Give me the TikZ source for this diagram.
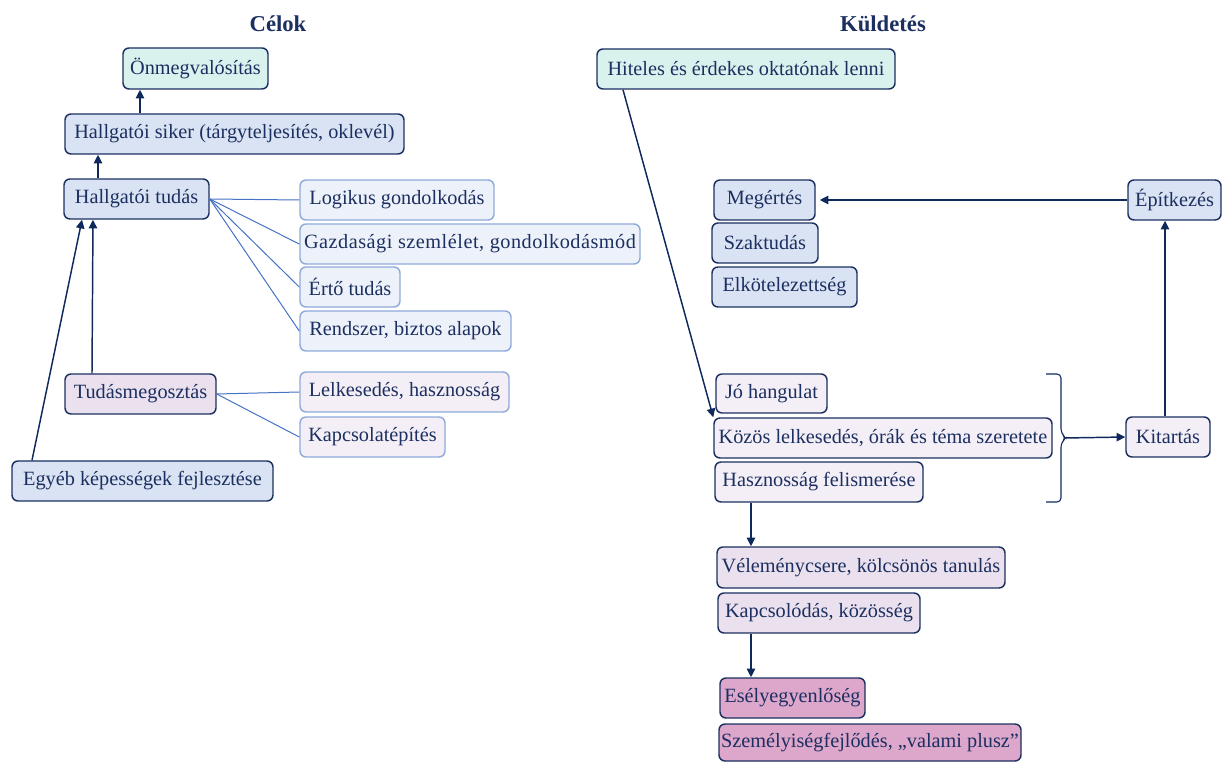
\documentclass[tikz,border=0pt]{standalone}
\usepackage{fontspec}
\setmainfont{Liberation Serif}
\usetikzlibrary{arrows.meta,calc}

\definecolor{ink}{HTML}{1B2F60}
\definecolor{arrowink}{HTML}{10295C}
\definecolor{mint}{HTML}{D9F2EE}
\definecolor{bluefill}{HTML}{DAE3F3}
\definecolor{palefill}{HTML}{EDF1FA}
\definecolor{paleedge}{HTML}{8FAADC}
\definecolor{fanline}{HTML}{4472C4}
\definecolor{lavender}{HTML}{EBE1EE}
\definecolor{palelav}{HTML}{F4EFF6}
\definecolor{mauve}{HTML}{DDA6CB}

\begin{document}
\begin{tikzpicture}[x=0.75pt,y=-0.75pt,
  box/.style={draw=ink, line width=1.1pt, rounded corners=4.5pt, text=ink,
    font=\fontsize{15.2pt}{18pt}\selectfont, inner sep=0pt, minimum height=40*0.75pt},
  softbox/.style={box, draw=paleedge},
  bw/.style={minimum width=#1*0.75pt},
  bh/.style={minimum height=#1*0.75pt},
  title/.style={text=ink, font=\bfseries\fontsize{17pt}{20pt}\selectfont},
  arr/.style={draw=arrowink, line width=1.1pt, -{Triangle[length=6.5pt,width=6.3pt]}},
  fan/.style={draw=fanline, line width=0.75pt},
  brace/.style={draw=arrowink, line width=0.8pt, rounded corners=3pt}]
\useasboundingbox (0,0) rectangle (1225,762);

% ---------------- Célok ----------------
\node[title] (tcel) at (278,24) {Célok};

\node[box, fill=mint, bw=145, bh=41] (onm) at (195.5,68.5) {Önmegvalósítás};
\node[box, fill=bluefill, bw=339] (siker) at (234.5,134) {Hallgatói siker (tárgyteljesítés, oklevél)};
\node[box, fill=bluefill, bw=145] (tudas) at (136.5,199) {Hallgatói tudás};

\node[softbox, fill=palefill, bw=194] (logi) at (397,200) {Logikus gondolkodás};
\node[softbox, fill=palefill, bw=340] (gazd) at (470,244) {\addfontfeature{LetterSpace=2.5}Gazdasági szemlélet, gondolkodásmód};
\node[softbox, fill=palefill, bw=100] (erto) at (350,287) {Értő tudás};
\node[softbox, fill=palefill, bw=211] (rend) at (405.5,331) {Rendszer, biztos alapok};

\node[box, fill=lavender, bw=151] (megoszt) at (140.5,394) {Tudásmegosztás};
\node[softbox, fill=palelav, bw=209] (lelk) at (404.5,392) {Lelkesedés, hasznosság};
\node[softbox, fill=palelav, bw=145] (kapcs) at (372.5,437) {Kapcsolatépítés};

\node[box, fill=bluefill, bw=261] (egyeb) at (142.5,481) {Egyéb képességek fejlesztése};

% hierarchy arrows
\draw[arr] (siker.north -| 140,0) -- (onm.south -| 140,0);
\draw[arr] (tudas.north -| 98,0) -- (siker.south -| 98,0);
\draw[arr] (egyeb.north -| 32,0) -- (tudas.south -| 82,0);
\draw[arr] (megoszt.north -| 92,0) -- (tudas.south -| 93,0);

% fan-out lines
\foreach \t in {logi,gazd,erto,rend}
  \draw[fan] (tudas.east) -- (\t.west);
\foreach \t in {lelk,kapcs}
  \draw[fan] (megoszt.east) -- (\t.west);

% ---------------- Küldetés ----------------
\node[title] (tkul) at (883,24) {Küldetés};

\node[box, fill=mint, bw=298] (hiteles) at (746,69) {Hiteles és érdekes oktatónak lenni};

\node[box, fill=bluefill, bw=101] (megert) at (764.5,200) {Megértés};
\node[box, fill=bluefill, bw=106] (szak) at (765,243) {Szaktudás};
\node[box, fill=bluefill, bw=145] (elkot) at (784.5,287) {Elkötelezettség};
\node[box, fill=bluefill, bw=93] (epit) at (1174.5,200) {Építkezés};

\node[box, fill=palelav, bw=111, bh=39] (jo) at (771.5,393.5) {Jó hangulat};
\node[box, fill=palelav, bw=338] (kozos) at (883,438) {Közös lelkesedés, órák és téma szeretete};
\node[box, fill=palelav, bw=208] (haszn) at (819,482) {Hasznosság felismerése};
\node[box, fill=palelav, bw=84] (kitart) at (1168,437) {Kitartás};

\node[box, fill=lavender, bw=288, bh=41] (velem) at (861,567.5) {Véleménycsere, kölcsönös tanulás};
\node[box, fill=lavender, bw=202] (kapcsol) at (819,613) {Kapcsolódás, közösség};

\node[box, fill=mauve, bw=145] (esely) at (792.5,698) {Esélyegyenlőség};
\node[box, fill=mauve, bw=302, bh=37] (szemely) at (870,742.5) {Személyiségfejlődés, „valami plusz”};

% bracket grouping the three boxes
\draw[brace] (1046,374) -- (1061,374) -- (1061,433) -- (1066,438)
  -- (1061,443) -- (1061,502) -- (1046,502);
\coordinate (bracetip) at (1065,438);

% mission arrows
\draw[arr] (hiteles.south -| 623,0) -- (kozos.north west);
\draw[arr] (bracetip) -- (kitart.west);
\draw[arr] (kitart.north -| 1165,0) -- (epit.south -| 1165,0);
\draw[arr, shorten >=3pt] (epit.west) -- (megert.east);
\draw[arr] (haszn.south -| 751,0) -- (velem.north -| 751,0);
\draw[arr] (kapcsol.south -| 751,0) -- (esely.north -| 751,0);
\end{tikzpicture}
\end{document}
